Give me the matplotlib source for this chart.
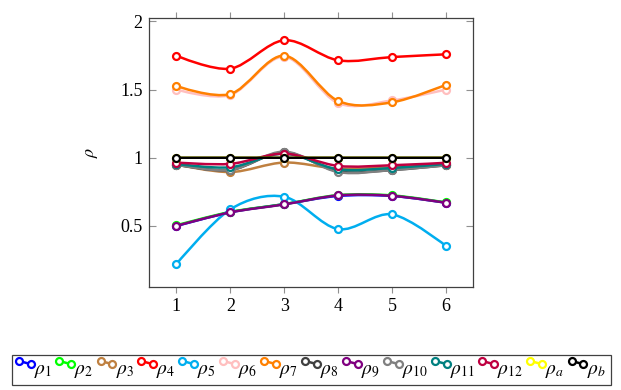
import numpy as np
import matplotlib
matplotlib.use('Agg')
import matplotlib.pyplot as plt
from matplotlib.path import Path
from matplotlib.patches import PathPatch
from matplotlib.lines import Line2D
from matplotlib.legend_handler import HandlerLine2D

plt.rcParams['font.family'] = ['Liberation Serif', 'DejaVu Serif']
plt.rcParams['mathtext.fontset'] = 'stix'

x = [1, 2, 3, 4, 5, 6]

rho1 = [0.50, 0.60, 0.66, 0.72, 0.72, 0.67]
rho2 = [0.505, 0.603, 0.66, 0.726, 0.724, 0.672]
rho3 = [0.95, 0.895, 0.965, 0.92, 0.93, 0.95]
rho4 = [1.748, 1.653, 1.861, 1.714, 1.738, 1.758]
rho5 = [0.221, 0.622, 0.714, 0.477, 0.585, 0.353]
rho6 = [1.50, 1.46, 1.74, 1.40, 1.42, 1.50]
rho7 = [1.526, 1.467, 1.748, 1.416, 1.406, 1.535]
rho8 = [0.95, 0.91, 1.04, 0.90, 0.91, 0.945]
rho9 = [0.501, 0.600, 0.658, 0.724, 0.721, 0.670]
rho10 = [0.95, 0.91, 1.045, 0.895, 0.91, 0.945]
rho11 = [0.955, 0.93, 1.03, 0.915, 0.925, 0.955]
rho12 = [0.965, 0.955, 1.03, 0.94, 0.945, 0.963]
rho_a = [1.0, 1.0, 1.0, 1.0, 1.0, 1.0]
rho_b = [1.0, 1.0, 1.0, 1.0, 1.0, 1.0]

series = [rho1, rho2, rho3, rho4, rho5, rho6, rho7, rho8, rho9, rho10, rho11, rho12, rho_a, rho_b]
labels = [r'$\rho_{1}$', r'$\rho_{2}$', r'$\rho_{3}$', r'$\rho_{4}$', r'$\rho_{5}$', r'$\rho_{6}$',
          r'$\rho_{7}$', r'$\rho_{8}$', r'$\rho_{9}$', r'$\rho_{10}$', r'$\rho_{11}$', r'$\rho_{12}$',
          r'$\rho_{a}$', r'$\rho_{b}$']
colors = ['#0000ff', '#00ff00', '#bf8040', '#ff0000', '#00aeef', '#ffbfbf', '#ff8000',
          '#404040', '#800080', '#808080', '#008080', '#bf0040', '#ffff00', '#000000']


def smooth_path(xs, ys, t=0.16):
    # tikz-like "smooth" bezier through the points
    p = np.column_stack([xs, ys]).astype(float)
    n = len(p)
    tang = np.zeros_like(p)
    for i in range(1, n - 1):
        tang[i] = (p[i + 1] - p[i - 1]) * t
    verts = [p[0]]
    codes = [Path.MOVETO]
    for i in range(n - 1):
        verts += [p[i] + tang[i], p[i + 1] - tang[i + 1], p[i + 1]]
        codes += [Path.CURVE4] * 3
    return Path(verts, codes)


class DiagHandler(HandlerLine2D):
    def create_artists(self, legend, orig_handle, xdescent, ydescent, width, height, fontsize, trans):
        xs = [-xdescent + 0.15 * width, -xdescent + 0.85 * width]
        ys = [height * 0.95 - ydescent, height * 0.72 - ydescent]
        line = Line2D(xs, ys)
        self.update_prop(line, orig_handle, legend)
        line.set_transform(trans)
        return [line]


fig = plt.figure(figsize=(6.21, 3.9), dpi=100)
ax = fig.add_axes([0.2407, 0.2649, 0.5209, 0.6889])

handles = []
for i, (ys, c) in enumerate(zip(series, colors)):
    z = 2 + i * 0.1
    ax.add_patch(PathPatch(smooth_path(x, ys), facecolor='none', edgecolor=c, lw=1.8, zorder=z))
    ax.plot(x, ys, linestyle='none', marker='o', ms=5, mfc='white', mec=c, mew=1.6, zorder=z + 0.05)
    handles.append(Line2D([], [], color=c, lw=1.8, marker='o', ms=5, mfc='white', mec=c, mew=1.6))

ax.set_xlim(0.5, 6.5)
ax.set_ylim(0.055, 2.024)
ax.set_xticks(x)
ax.set_yticks([0.5, 1, 1.5, 2])
ax.set_yticklabels(['0.5', '1', '1.5', '2'])
ax.tick_params(axis='x', direction='out', top=True, length=4.5, width=0.8, color='#909090', labelsize=13, pad=4)
ax.tick_params(axis='y', direction='in', right=True, length=5, width=0.8, color='#909090', labelsize=13, pad=5)
for s in ax.spines.values():
    s.set_color('#404040')
    s.set_linewidth(0.9)

ax.set_ylabel(r'$\rho$', fontsize=13)
ax.yaxis.set_label_coords(-0.153, 0.5)

leg = fig.legend(handles, labels, loc='center', bbox_to_anchor=(0.501, 0.051), ncol=14, fontsize=14,
                 handler_map={Line2D: DiagHandler()}, handlelength=0.85, handletextpad=0.05,
                 columnspacing=0.24, borderpad=0.25, borderaxespad=0.2, fancybox=False,
                 edgecolor='#404040', framealpha=1)
leg.get_frame().set_linewidth(0.9)

fig.savefig('out.png', dpi=100)
